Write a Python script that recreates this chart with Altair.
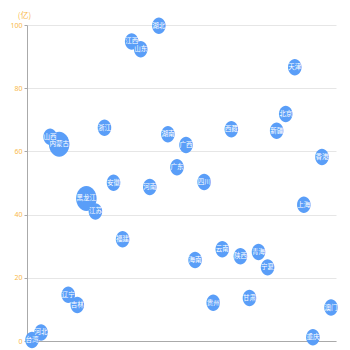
import altair as alt
import pandas as pd

provinces = ["台湾", "河北", "山西", "内蒙古", "辽宁", "吉林", "黑龙江", "江苏", "浙江", "安徽",
             "福建", "江西", "山东", "河南", "湖北", "湖南", "广东", "广西", "海南", "四川",
             "贵州", "云南", "西藏", "陕西", "甘肃", "青海", "宁夏", "新疆", "北京", "天津",
             "上海", "重庆", "香港", "澳门"]
values = [0.3, 2.7, 64.6, 62.3, 14.6, 11.4, 45.1, 41.0, 67.5, 50.1,
          32.2, 94.8, 92.3, 48.7, 99.8, 65.4, 55.0, 62.0, 25.6, 50.3,
          12.1, 29.0, 67.0, 26.8, 13.6, 28.2, 23.3, 66.5, 71.8, 86.6,
          43.1, 1.2, 58.2, 10.6]
sizes = [1, 1, 1, 2, 1, 1, 2, 1, 1, 1,
         1, 1, 1, 1, 1, 1, 1, 1, 1, 1,
         1, 1, 1, 1, 1, 1, 1, 1, 1, 1,
         1, 1, 1, 1]
y_ticks = [0, 20, 40, 60, 80, 100]

df = pd.DataFrame({"province": provinces, "value": values, "size": sizes})

ellipse = "M -0.82 0 A 0.82 1 0 1 0 0.82 0 A 0.82 1 0 1 0 -0.82 0 Z"

x_enc = alt.X("province:N", sort=provinces,
              scale=alt.Scale(type="point", padding=0.55),
              axis=alt.Axis(labels=False, ticks=False, title=None, grid=False,
                            domainColor="#aaaaaa", domainWidth=1))
y_enc = alt.Y("value:Q", scale=alt.Scale(domain=[0, 100], nice=False),
              axis=alt.Axis(values=y_ticks, title="(亿)", titleAngle=0,
                            titleAlign="center", titleBaseline="bottom",
                            titleX=-3, titleY=-6, titleColor="#f9b94a",
                            titleFontSize=8, titleFontWeight="normal",
                            labelColor="#f9b94a", labelFontSize=7,
                            labelPadding=2, tickSize=3, tickColor="#aaaaaa",
                            domainColor="#aaaaaa", gridColor="#e6e6e6",
                            labelFont="Noto Sans", titleFont="Noto Sans CJK SC"))

base = alt.Chart(df).encode(x=x_enc, y=y_enc)

points = base.mark_point(shape=ellipse, filled=True, opacity=1, color="#5a9ef8").encode(
    size=alt.Size("size:Q", scale=alt.Scale(domain=[1, 2], range=[272, 625]), legend=None)
)
labels = base.mark_text(color="white", fontSize=6.5, font="Noto Sans CJK SC").encode(
    text="province:N"
)

chart = alt.layer(points, labels).properties(
    width=309, height=316,
    autosize=alt.AutoSizeParams(type="none"),
    padding={"left": 27, "top": 25, "right": 14, "bottom": 9},
).configure_view(stroke=None)

chart.save("out.html", embed_options={"renderer": "svg", "actions": False})
